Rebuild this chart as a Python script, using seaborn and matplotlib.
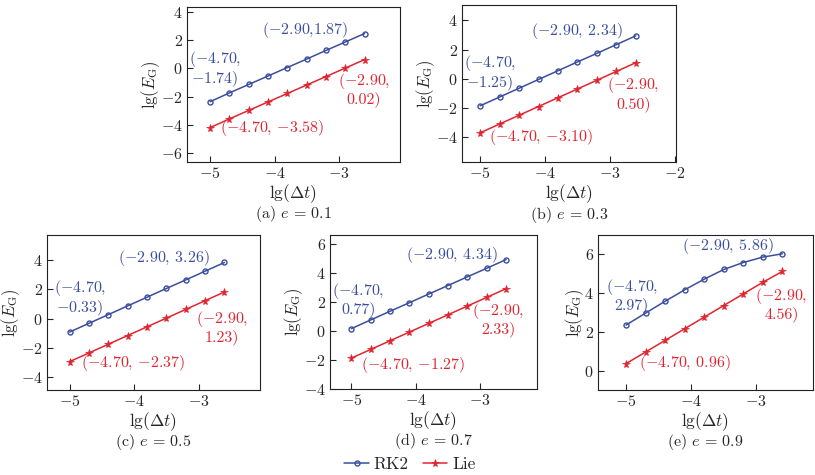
import numpy as np
import pandas as pd
import matplotlib
matplotlib.use('Agg')
import matplotlib.pyplot as plt
import seaborn as sns

# step sizes lg(dt)
lg_dt = [-5.0, -4.7, -4.4, -4.1, -3.8, -3.5, -3.2, -2.9, -2.6]

# lg(E_G), one list per panel
rk2_a = [-2.36, -1.74, -1.14, -0.54, 0.06, 0.66, 1.27, 1.87, 2.47]
lie_a = [-4.20, -3.58, -2.98, -2.38, -1.78, -1.18, -0.58, 0.02, 0.62]
rk2_b = [-1.85, -1.25, -0.65, -0.05, 0.55, 1.15, 1.74, 2.34, 2.94]
lie_b = [-3.70, -3.10, -2.50, -1.90, -1.30, -0.70, -0.10, 0.50, 1.10]
rk2_c = [-0.93, -0.33, 0.27, 0.87, 1.47, 2.07, 2.66, 3.26, 3.86]
lie_c = [-2.97, -2.37, -1.77, -1.17, -0.57, 0.03, 0.63, 1.23, 1.83]
rk2_d = [0.17, 0.77, 1.37, 1.96, 2.56, 3.15, 3.75, 4.34, 4.94]
lie_d = [-1.87, -1.27, -0.67, -0.07, 0.53, 1.13, 1.73, 2.33, 2.93]
rk2_e = [2.35, 2.97, 3.58, 4.17, 4.72, 5.22, 5.58, 5.86, 6.03]
lie_e = [0.36, 0.96, 1.56, 2.16, 2.76, 3.36, 3.96, 4.56, 5.12]

captions = ['(a)', '(b)', '(c)', '(d)', '(e)']
ecc = ['0.1', '0.3', '0.5', '0.7', '0.9']
rk2_labels = [('(-2.90,1.87)', '(-4.70,\n-1.74)'), ('(-2.90, 2.34)', '(-4.70,\n-1.25)'),
              ('(-2.90, 3.26)', '(-4.70,\n-0.33)'), ('(-2.90, 4.34)', '(-4.70,\n0.77)'),
              ('(-2.90, 5.86)', '(-4.70,\n2.97)')]
lie_labels = [('(-2.90,\n0.02)', '(-4.70, -3.58)'), ('(-2.90,\n0.50)', '(-4.70, -3.10)'),
              ('(-2.90,\n1.23)', '(-4.70, -2.37)'), ('(-2.90,\n2.33)', '(-4.70, -1.27)'),
              ('(-2.90,\n4.56)', '(-4.70, 0.96)')]

sns.set_style('ticks')
plt.rcParams['font.family'] = 'serif'
plt.rcParams['font.serif'] = ['cmr10', 'DejaVu Serif']
plt.rcParams['mathtext.fontset'] = 'cm'
plt.rcParams['axes.formatter.use_mathtext'] = True
plt.rcParams['axes.unicode_minus'] = True

blue = '#3b4e9e'
red = '#e02530'
W, H = 815, 475

# axes boxes in pixels: left, right, top, bottom
boxes = [(187, 400, 7, 162), (462, 676, 5, 162), (47, 260, 235, 390),
         (330, 537, 235, 389), (598, 813, 235, 390)]
xlims = [(-5.36, -2.05), (-5.28, -1.98), (-5.35, -2.05), (-5.33, -2.12), (-5.43, -2.13)]
ylims = [(-6.64, 4.35), (-5.7, 5.05), (-4.92, 5.75), (-4.0, 6.64), (-1.0, 7.0)]
xticks = [[-5, -4, -3], [-5, -4, -3, -2], [-5, -4, -3], [-5, -4, -3], [-5, -4, -3]]
yticks = [[-6, -4, -2, 0, 2, 4], [-4, -2, 0, 2, 4], [-4, -2, 0, 2, 4],
          [-4, -2, 0, 2, 4, 6], [0, 2, 4, 6]]
# annotation spots in axes fraction: blue top, blue left, red right, red bottom
spots = [[(0.554, 0.852), (0.131, 0.60), (0.831, 0.471), (0.399, 0.219)],
         [(0.536, 0.836), (0.131, 0.565), (0.80, 0.437), (0.368, 0.161)],
         [(0.551, 0.85), (0.154, 0.592), (0.821, 0.408), (0.403, 0.172)],
         [(0.588, 0.87), (0.137, 0.584), (0.813, 0.455), (0.399, 0.156)],
         [(0.602, 0.931), (0.157, 0.613), (0.854, 0.553), (0.405, 0.172)]]

rk2_all = [rk2_a, rk2_b, rk2_c, rk2_d, rk2_e]
lie_all = [lie_a, lie_b, lie_c, lie_d, lie_e]


def mt(s):
    # plain serif text, only the minus sign goes through mathtext
    return s.replace('-', r'$-$')


fig = plt.figure(figsize=(W / 100, H / 100), dpi=100)
fs = 11.5

for i in range(5):
    l, r, t, b = boxes[i]
    ax = fig.add_axes([l / W, 1 - b / H, (r - l) / W, (b - t) / H])
    df = pd.DataFrame({'x': lg_dt, 'RK2': rk2_all[i], 'Lie': lie_all[i]})
    sns.lineplot(data=df, x='x', y='RK2', ax=ax, color=blue, lw=1.1, marker='o',
                 markersize=3.6, markerfacecolor='none', markeredgecolor=blue,
                 markeredgewidth=1.0, label='RK2')
    sns.lineplot(data=df, x='x', y='Lie', ax=ax, color=red, lw=1.1, marker='*',
                 markersize=5.8, markeredgecolor=red, markeredgewidth=0.5, label='Lie')
    ax.set_xlim(*xlims[i])
    ax.set_ylim(*ylims[i])
    ax.set_xticks(xticks[i])
    ax.set_yticks(yticks[i])
    ax.tick_params(direction='in', length=4, width=0.8, labelsize=fs, pad=3)
    for s in ax.spines.values():
        s.set_linewidth(0.8)
        s.set_color('#222222')
    ax.set_xlabel(r'$\mathrm{lg}(\Delta t)$', fontsize=fs + 1, labelpad=1)
    ax.set_ylabel(r'$\mathrm{lg}(E_{\mathrm{G}})$', fontsize=fs + 0.5, labelpad=-1)
    ax.get_legend().remove()
    sp = spots[i]
    kw = dict(transform=ax.transAxes, ha='center', va='center', fontsize=fs,
              multialignment='center', linespacing=1.05)
    ax.text(*sp[0], mt(rk2_labels[i][0]), color=blue, **kw)
    ax.text(*sp[1], mt(rk2_labels[i][1]), color=blue, **kw)
    ax.text(*sp[2], mt(lie_labels[i][0]), color=red, **kw)
    ax.text(*sp[3], mt(lie_labels[i][1]), color=red, **kw)
    ax.text(0.5, -0.335, captions[i] + r' $e\,{=}\,' + ecc[i] + '$', transform=ax.transAxes,
            ha='center', va='center', fontsize=fs)
    if i == 3:
        handles, labels = ax.get_legend_handles_labels()

fig.legend(handles, labels, loc='center', bbox_to_anchor=(410 / W, 1 - 464 / H), ncol=2,
           frameon=False, fontsize=fs + 1, handlelength=1.4, handletextpad=0.3,
           columnspacing=0.8, borderaxespad=0, borderpad=0)

fig.savefig('out.png', dpi=100)
